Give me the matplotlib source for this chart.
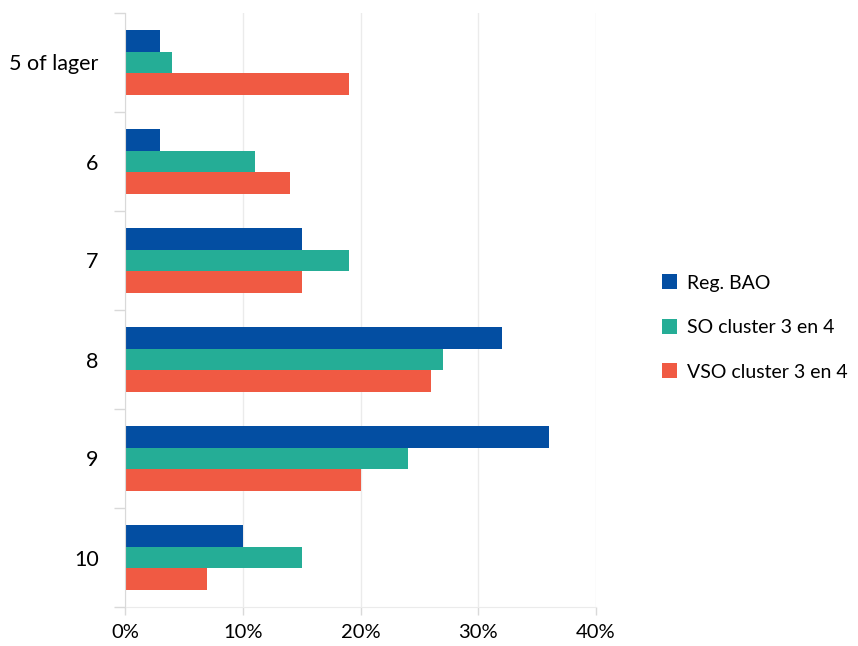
import matplotlib
matplotlib.use("Agg")
import matplotlib.pyplot as plt
import numpy as np
from matplotlib.ticker import FuncFormatter, FixedLocator

categories = ["5 of lager", "6", "7", "8", "9", "10"]
series_names = ["Reg. BAO", "SO cluster 3 en 4", "VSO cluster 3 en 4"]
reg_bao = [3, 3, 15, 32, 36, 10]
so_cluster = [4, 11, 19, 27, 24, 15]
vso_cluster = [19, 14, 15, 26, 20, 7]
colors = ["#034EA2", "#25AD96", "#F05A43"]
x_ticks = [0, 10, 20, 30, 40]

plt.rcParams['font.family'] = ['Lato', 'DejaVu Sans']

fig = plt.figure(figsize=(8.58, 6.46), dpi=100)
ax = fig.add_axes([125/858, 1-607/646, (596-125)/858, (607-13)/646])

n = len(categories)
y = np.arange(n)
bh = 0.222
data = [reg_bao, so_cluster, vso_cluster]
for i, (vals, name, c) in enumerate(zip(data, series_names, colors)):
    ax.barh(y + (i - 1) * bh, vals, height=bh, color=c, label=name, zorder=3)

ax.set_ylim(n - 0.5, -0.5)
ax.set_xlim(0, 40)
ax.xaxis.set_major_locator(FixedLocator(x_ticks))
ax.xaxis.set_major_formatter(FuncFormatter(lambda v, p: f"{int(v)}%"))
ax.set_yticks(y)
ax.set_yticklabels(categories)
ax.set_yticks(np.arange(n + 1) - 0.5, minor=True)
ax.tick_params(axis='y', which='major', length=0, pad=19, labelsize=15.5, labelcolor="#000000")
ax.tick_params(axis='y', which='minor', length=8, color="#D9D9D9", width=1)
ax.tick_params(axis='x', which='major', length=6, color="#D9D9D9", width=1, pad=6, labelsize=14.5)
ax.grid(axis='x', color="#EBEBEB", linewidth=1, zorder=0)
for s in ['top', 'right']:
    ax.spines[s].set_visible(False)
ax.spines['left'].set_color("#D9D9D9")
ax.spines['bottom'].set_color("#EBEBEB")
ax.spines['left'].set_zorder(4)

leg = fig.legend(loc='upper left', bbox_to_anchor=(644/858, 1-257/646), frameon=False,
                 fontsize=14, handlelength=0.8, handleheight=0.8, handletextpad=0.5,
                 labelspacing=1.4)

fig.savefig("out.png", dpi=100)
